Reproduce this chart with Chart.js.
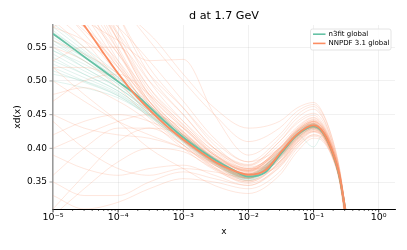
<!DOCTYPE html>
<html>
<head>
<meta charset="utf-8">
<script src="https://cdn.jsdelivr.net/npm/chart.js@4.4.1/dist/chart.umd.min.js"></script>
<style>
  html, body { margin: 0; padding: 0; background: #fff; }
  canvas { display: block; }
</style>
</head>
<body>
<canvas id="chart" width="407" height="250"></canvas>
<script>
const GREEN = '#66c2a5';
const ORANGE = '#fc8d62';
const FONT = '"DejaVu Sans", sans-serif';

// central curves
const xCentral = [1e-5, 1.8e-5, 3.2e-5, 5.6e-5, 1e-4, 1.8e-4, 3.2e-4, 5.6e-4, 1e-3, 1.8e-3,
  3.2e-3, 5.6e-3, 1e-2, 1.8e-2, 3.2e-2, 5.6e-2, 0.1, 0.14, 0.2, 0.25, 0.32];
const n3fitCentral = [0.570, 0.552, 0.534, 0.517, 0.499, 0.481, 0.459, 0.437, 0.416, 0.398,
  0.382, 0.369, 0.358, 0.364, 0.393, 0.420, 0.433, 0.423, 0.391, 0.358, 0.300];
const nnpdf31Central = [0.640, 0.610, 0.579, 0.545, 0.511, 0.480, 0.455, 0.433, 0.413, 0.395,
  0.379, 0.368, 0.361, 0.367, 0.395, 0.421, 0.434, 0.424, 0.392, 0.360, 0.300];

// replicas, read on a coarser grid
const xReplica = [1e-5, 3e-5, 1e-4, 3e-4, 1e-3, 3e-3, 0.01, 0.03, 0.056, 0.1, 0.14, 0.2, 0.25, 0.32];

const nnpdf31Replicas = [
  [0.70, 0.62, 0.53, 0.465, 0.42, 0.385, 0.366, 0.397, 0.425, 0.437, 0.426, 0.393, 0.358, 0.29],
  [0.60, 0.56, 0.50, 0.452, 0.41, 0.376, 0.358, 0.388, 0.418, 0.432, 0.422, 0.390, 0.355, 0.29],
  [0.66, 0.59, 0.52, 0.46, 0.418, 0.383, 0.364, 0.392, 0.419, 0.440, 0.430, 0.396, 0.362, 0.30],
  [0.75, 0.65, 0.55, 0.475, 0.425, 0.390, 0.370, 0.400, 0.428, 0.443, 0.432, 0.398, 0.364, 0.30],
  [0.55, 0.53, 0.49, 0.445, 0.405, 0.372, 0.355, 0.384, 0.413, 0.428, 0.418, 0.386, 0.352, 0.28],
  [0.62, 0.57, 0.51, 0.455, 0.412, 0.378, 0.360, 0.390, 0.420, 0.435, 0.425, 0.392, 0.358, 0.29],
  [0.48, 0.49, 0.47, 0.44, 0.40, 0.368, 0.350, 0.378, 0.410, 0.426, 0.418, 0.387, 0.354, 0.29],
  [0.80, 0.68, 0.57, 0.49, 0.435, 0.396, 0.374, 0.405, 0.432, 0.446, 0.434, 0.400, 0.366, 0.30],
  [0.58, 0.56, 0.52, 0.47, 0.425, 0.385, 0.362, 0.388, 0.415, 0.430, 0.421, 0.390, 0.357, 0.29],
  [0.36, 0.40, 0.43, 0.43, 0.405, 0.375, 0.356, 0.385, 0.416, 0.433, 0.424, 0.391, 0.357, 0.29],
  [0.30, 0.34, 0.38, 0.40, 0.395, 0.370, 0.352, 0.380, 0.412, 0.430, 0.420, 0.388, 0.355, 0.29],
  [0.45, 0.43, 0.42, 0.415, 0.40, 0.378, 0.360, 0.392, 0.420, 0.436, 0.425, 0.393, 0.360, 0.30],
  [0.39, 0.37, 0.36, 0.37, 0.375, 0.360, 0.345, 0.372, 0.405, 0.424, 0.416, 0.386, 0.353, 0.29],
  [0.72, 0.66, 0.58, 0.50, 0.44, 0.395, 0.370, 0.400, 0.430, 0.445, 0.433, 0.399, 0.364, 0.30],
  [0.64, 0.60, 0.54, 0.48, 0.43, 0.390, 0.368, 0.396, 0.424, 0.438, 0.428, 0.395, 0.360, 0.30],
  [0.52, 0.52, 0.50, 0.46, 0.415, 0.380, 0.362, 0.393, 0.420, 0.434, 0.424, 0.392, 0.358, 0.29],
  [0.90, 0.74, 0.60, 0.51, 0.45, 0.400, 0.375, 0.410, 0.440, 0.452, 0.440, 0.402, 0.366, 0.30],
  [0.42, 0.44, 0.45, 0.44, 0.415, 0.380, 0.358, 0.386, 0.414, 0.430, 0.420, 0.389, 0.356, 0.29],
  [0.33, 0.31, 0.32, 0.34, 0.355, 0.350, 0.340, 0.365, 0.400, 0.420, 0.413, 0.384, 0.352, 0.29],
  [0.68, 0.63, 0.57, 0.51, 0.46, 0.410, 0.380, 0.415, 0.445, 0.458, 0.444, 0.405, 0.368, 0.30],
  [0.62, 0.59, 0.56, 0.53, 0.532, 0.450, 0.390, 0.420, 0.450, 0.462, 0.446, 0.405, 0.367, 0.30],
  [0.50, 0.47, 0.44, 0.42, 0.40, 0.375, 0.356, 0.383, 0.412, 0.428, 0.419, 0.388, 0.355, 0.29],
  [0.85, 0.72, 0.60, 0.52, 0.46, 0.405, 0.372, 0.395, 0.420, 0.432, 0.421, 0.389, 0.355, 0.29],
  [0.61, 0.58, 0.53, 0.47, 0.42, 0.382, 0.360, 0.375, 0.405, 0.420, 0.415, 0.387, 0.355, 0.29],
  [0.56, 0.54, 0.51, 0.465, 0.42, 0.386, 0.368, 0.400, 0.427, 0.440, 0.429, 0.395, 0.360, 0.30],
  [0.40, 0.42, 0.44, 0.45, 0.43, 0.390, 0.365, 0.395, 0.425, 0.439, 0.428, 0.394, 0.360, 0.30],
  [0.31, 0.36, 0.41, 0.43, 0.42, 0.385, 0.362, 0.390, 0.418, 0.432, 0.422, 0.390, 0.357, 0.29],
  [0.67, 0.61, 0.54, 0.47, 0.415, 0.376, 0.352, 0.378, 0.408, 0.425, 0.417, 0.387, 0.355, 0.29],
  [0.76, 0.66, 0.56, 0.48, 0.43, 0.390, 0.367, 0.398, 0.426, 0.441, 0.430, 0.396, 0.361, 0.30],
  [0.53, 0.55, 0.55, 0.50, 0.45, 0.400, 0.370, 0.380, 0.410, 0.427, 0.420, 0.390, 0.357, 0.29],
  [0.63, 0.58, 0.52, 0.46, 0.41, 0.372, 0.350, 0.380, 0.414, 0.431, 0.422, 0.390, 0.357, 0.29],
  [0.47, 0.50, 0.51, 0.48, 0.435, 0.392, 0.366, 0.392, 0.420, 0.435, 0.425, 0.392, 0.358, 0.29],
  [0.59, 0.55, 0.50, 0.45, 0.405, 0.370, 0.348, 0.372, 0.402, 0.418, 0.412, 0.385, 0.353, 0.29],
  [0.71, 0.64, 0.56, 0.49, 0.44, 0.400, 0.376, 0.410, 0.437, 0.449, 0.436, 0.400, 0.365, 0.30],
  [0.44, 0.40, 0.37, 0.36, 0.37, 0.365, 0.356, 0.390, 0.420, 0.436, 0.426, 0.393, 0.359, 0.30],
  [0.65, 0.62, 0.58, 0.53, 0.47, 0.415, 0.380, 0.400, 0.425, 0.437, 0.426, 0.393, 0.358, 0.29],
  [0.78, 0.70, 0.62, 0.56, 0.50, 0.450, 0.410, 0.430, 0.455, 0.465, 0.450, 0.410, 0.370, 0.30],
  [0.58, 0.60, 0.60, 0.57, 0.51, 0.460, 0.430, 0.440, 0.460, 0.468, 0.452, 0.410, 0.370, 0.30],
  [0.52, 0.48, 0.44, 0.40, 0.37, 0.345, 0.333, 0.360, 0.395, 0.415, 0.410, 0.383, 0.351, 0.28],
  [0.35, 0.33, 0.33, 0.35, 0.365, 0.355, 0.345, 0.375, 0.408, 0.425, 0.418, 0.388, 0.355, 0.29],
  [0.69, 0.62, 0.545, 0.47, 0.422, 0.384, 0.363, 0.394, 0.422, 0.436, 0.425, 0.392, 0.358, 0.29],
  [0.74, 0.64, 0.545, 0.465, 0.415, 0.379, 0.359, 0.389, 0.418, 0.433, 0.423, 0.391, 0.357, 0.29],
  [0.66, 0.60, 0.525, 0.458, 0.411, 0.377, 0.357, 0.387, 0.417, 0.432, 0.422, 0.390, 0.357, 0.29],
  [0.82, 0.69, 0.565, 0.478, 0.424, 0.387, 0.366, 0.398, 0.426, 0.439, 0.428, 0.394, 0.359, 0.30],
  [0.61, 0.575, 0.525, 0.468, 0.423, 0.388, 0.367, 0.399, 0.427, 0.440, 0.429, 0.395, 0.360, 0.30],
  [0.73, 0.65, 0.56, 0.485, 0.432, 0.392, 0.369, 0.401, 0.429, 0.442, 0.431, 0.397, 0.362, 0.30]
];

const n3fitReplicas = [
  [0.580, 0.545, 0.505, 0.463, 0.418, 0.384, 0.360, 0.394, 0.423, 0.435, 0.424, 0.392, 0.358, 0.30],
  [0.550, 0.520, 0.490, 0.455, 0.413, 0.380, 0.356, 0.390, 0.420, 0.432, 0.422, 0.390, 0.357, 0.30],
  [0.530, 0.510, 0.485, 0.452, 0.412, 0.379, 0.355, 0.388, 0.418, 0.431, 0.421, 0.390, 0.357, 0.30],
  [0.575, 0.540, 0.500, 0.458, 0.414, 0.381, 0.357, 0.391, 0.420, 0.432, 0.422, 0.391, 0.358, 0.30],
  [0.510, 0.500, 0.480, 0.450, 0.410, 0.378, 0.354, 0.386, 0.416, 0.430, 0.421, 0.390, 0.357, 0.30],
  [0.565, 0.535, 0.500, 0.460, 0.417, 0.383, 0.358, 0.392, 0.422, 0.436, 0.426, 0.393, 0.359, 0.30],
  [0.545, 0.525, 0.495, 0.458, 0.415, 0.382, 0.357, 0.390, 0.420, 0.433, 0.423, 0.391, 0.358, 0.30],
  [0.560, 0.530, 0.495, 0.455, 0.412, 0.378, 0.353, 0.386, 0.417, 0.432, 0.422, 0.390, 0.357, 0.30],
  [0.540, 0.515, 0.490, 0.457, 0.416, 0.383, 0.360, 0.395, 0.424, 0.436, 0.425, 0.392, 0.358, 0.30],
  [0.500, 0.490, 0.475, 0.448, 0.410, 0.378, 0.355, 0.388, 0.419, 0.433, 0.423, 0.391, 0.358, 0.30],
  [0.585, 0.550, 0.510, 0.465, 0.420, 0.386, 0.362, 0.396, 0.425, 0.437, 0.426, 0.393, 0.359, 0.30],
  [0.525, 0.505, 0.482, 0.450, 0.412, 0.380, 0.356, 0.389, 0.420, 0.402, 0.420, 0.388, 0.355, 0.30],
  [0.570, 0.540, 0.505, 0.462, 0.419, 0.385, 0.360, 0.392, 0.421, 0.434, 0.424, 0.392, 0.358, 0.30],
  [0.535, 0.510, 0.485, 0.452, 0.413, 0.381, 0.358, 0.393, 0.423, 0.435, 0.424, 0.391, 0.357, 0.30],
  [0.555, 0.530, 0.498, 0.460, 0.418, 0.384, 0.359, 0.390, 0.419, 0.431, 0.421, 0.390, 0.357, 0.30],
  [0.520, 0.500, 0.478, 0.447, 0.408, 0.376, 0.352, 0.384, 0.415, 0.429, 0.420, 0.389, 0.356, 0.30],
  [0.560, 0.535, 0.503, 0.464, 0.420, 0.386, 0.361, 0.394, 0.422, 0.434, 0.423, 0.391, 0.357, 0.30],
  [0.545, 0.520, 0.490, 0.455, 0.415, 0.382, 0.358, 0.390, 0.420, 0.433, 0.423, 0.391, 0.358, 0.30],
  [0.572, 0.542, 0.506, 0.462, 0.417, 0.382, 0.357, 0.389, 0.418, 0.431, 0.421, 0.390, 0.357, 0.30],
  [0.515, 0.498, 0.478, 0.449, 0.411, 0.379, 0.356, 0.390, 0.421, 0.434, 0.424, 0.392, 0.358, 0.30]
];

const xTickValues = [1e-5, 1e-4, 1e-3, 1e-2, 1e-1, 1];
const xTickLabels = ['10⁻⁵', '10⁻⁴', '10⁻³', '10⁻²', '10⁻¹', '10⁰'];
const yTickValues = [0.35, 0.40, 0.45, 0.50, 0.55];
const yTickLabels = ['0.35', '0.40', '0.45', '0.50', '0.55'];

const legendItems = [
  { label: 'n3fit global', color: GREEN },
  { label: 'NNPDF 3.1 global', color: ORANGE }
];

const toPoints = (xs, ys) => xs.map((x, i) => ({ x, y: ys[i] }));

const datasets = [
  { data: toPoints(xCentral, nnpdf31Central), borderColor: ORANGE, borderWidth: 1.8 },
  { data: toPoints(xCentral, n3fitCentral), borderColor: GREEN, borderWidth: 1.8 },
  ...nnpdf31Replicas.map(r => ({ data: toPoints(xReplica, r), borderColor: 'rgba(252,141,98,0.3)', borderWidth: 0.7 })),
  ...n3fitReplicas.map(r => ({ data: toPoints(xReplica, r), borderColor: 'rgba(102,194,165,0.28)', borderWidth: 0.7 }))
];

// title, axis labels, legend and tick marks
const decorations = {
  id: 'decorations',
  afterDraw(chart) {
    const { ctx, chartArea: a, scales: { x, y } } = chart;
    ctx.save();

    ctx.strokeStyle = '#000';
    x.ticks.forEach(t => {
      const px = x.getPixelForValue(t.value);
      if (px < a.left - 0.5 || px > a.right + 0.5) return;
      ctx.lineWidth = t.major ? 0.8 : 0.6;
      const len = t.major ? 3.5 : 2;
      ctx.beginPath();
      ctx.moveTo(px, a.bottom);
      ctx.lineTo(px, a.bottom + len);
      ctx.stroke();
    });
    ctx.strokeStyle = '#888';
    ctx.lineWidth = 0.8;
    y.ticks.forEach(t => {
      const py = y.getPixelForValue(t.value);
      ctx.beginPath();
      ctx.moveTo(a.left, py);
      ctx.lineTo(a.left - 3.5, py);
      ctx.stroke();
    });

    ctx.fillStyle = '#000';
    ctx.textAlign = 'center';
    ctx.textBaseline = 'middle';
    ctx.font = '11.2px ' + FONT;
    ctx.fillText('d at 1.7 GeV', (a.left + a.right) / 2, 16);
    ctx.font = '9px ' + FONT;
    ctx.fillText('x', (a.left + a.right) / 2, 232);
    ctx.save();
    ctx.translate(18, (a.top + a.bottom) / 2);
    ctx.rotate(-Math.PI / 2);
    ctx.fillText('xd(x)', 0, 0);
    ctx.restore();

    // legend box
    const bx = 310.5, by = 29, bw = 80.5, bh = 21;
    ctx.fillStyle = 'rgba(255,255,255,0.85)';
    ctx.strokeStyle = '#ddd';
    ctx.lineWidth = 0.8;
    ctx.beginPath();
    ctx.roundRect(bx, by, bw, bh, 2);
    ctx.fill();
    ctx.stroke();
    ctx.font = '7px ' + FONT;
    ctx.textAlign = 'left';
    legendItems.forEach((item, i) => {
      const ly = 34.2 + i * 9.2;
      ctx.strokeStyle = item.color;
      ctx.lineWidth = 1.6;
      ctx.beginPath();
      ctx.moveTo(313, ly);
      ctx.lineTo(325.5, ly);
      ctx.stroke();
      ctx.fillStyle = '#000';
      ctx.fillText(item.label, 328.5, ly);
    });

    ctx.restore();
  }
};

new Chart(document.getElementById('chart'), {
  type: 'line',
  data: { datasets },
  options: {
    responsive: false,
    devicePixelRatio: 1,
    animation: false,
    events: [],
    layout: { padding: { top: 25, right: 12, bottom: 0, left: 0 } },
    elements: {
      point: { radius: 0 },
      line: { cubicInterpolationMode: 'monotone', fill: false }
    },
    plugins: { legend: { display: false }, title: { display: false }, tooltip: { enabled: false } },
    scales: {
      x: {
        type: 'logarithmic',
        min: 1e-5,
        max: 1.78,
        afterFit: s => { s.height = 41; },
        afterBuildTicks: s => {
          const ticks = [];
          for (let e = -5; e <= 0; e++) {
            for (let m = 1; m <= 9; m++) {
              const v = m * Math.pow(10, e);
              if (v <= s.max) ticks.push({ value: v, major: m === 1 });
            }
          }
          s.ticks = ticks;
        },
        grid: {
          drawTicks: false,
          color: c => (c.tick && c.tick.major ? 'rgba(0,0,0,0.07)' : 'rgba(0,0,0,0)'),
          lineWidth: 0.8
        },
        border: { display: true, color: '#000', width: 1 },
        ticks: {
          autoSkip: false,
          maxRotation: 0,
          minRotation: 0,
          padding: 3,
          color: '#000',
          font: { family: FONT, size: 9.5 },
          callback: value => {
            const i = xTickValues.findIndex(t => Math.abs(t - value) / t < 1e-6);
            return i >= 0 ? xTickLabels[i] : '';
          }
        }
      },
      y: {
        type: 'linear',
        min: 0.31,
        max: 0.583,
        afterFit: s => { s.width = 53; },
        afterBuildTicks: s => { s.ticks = yTickValues.map(v => ({ value: v })); },
        grid: { drawTicks: false, color: 'rgba(0,0,0,0.07)', lineWidth: 0.8 },
        border: { display: true, color: '#999', width: 1.5 },
        ticks: {
          padding: 6,
          color: '#000',
          font: { family: FONT, size: 9 },
          callback: (value, index) => yTickLabels[index]
        }
      }
    }
  },
  plugins: [decorations]
});
</script>
</body>
</html>
